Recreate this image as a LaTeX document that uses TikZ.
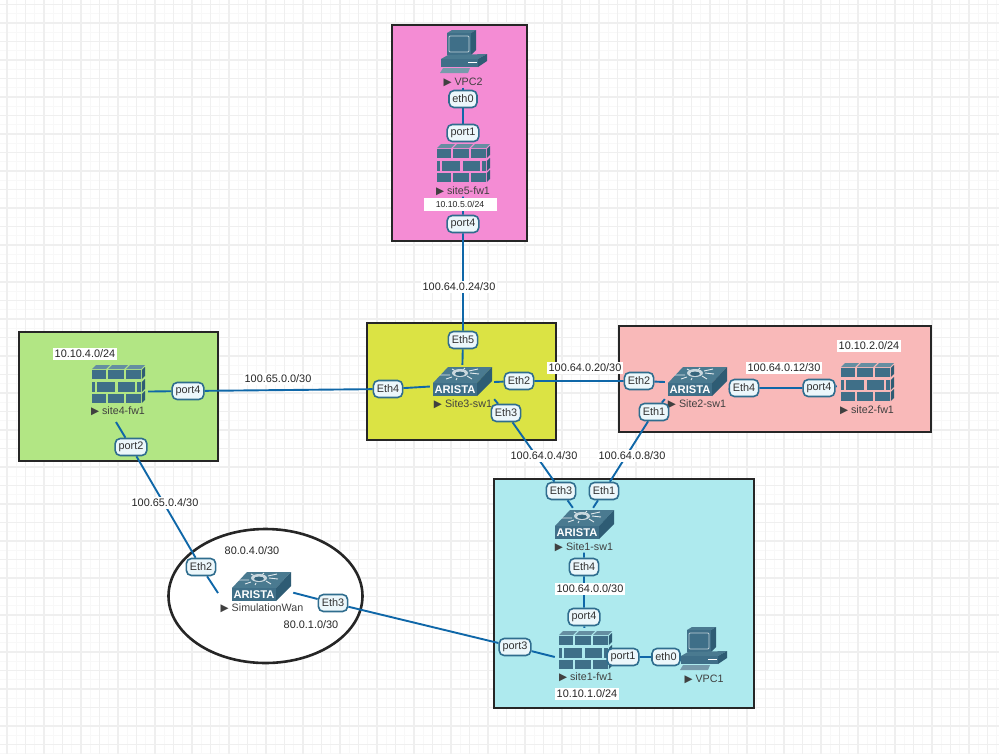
\documentclass[tikz,border=0pt]{standalone}
\usepackage{fontspec}
\setmainfont{Liberation Sans}
\newfontfamily\trifont{DejaVu Sans}
\usetikzlibrary{backgrounds}
\definecolor{icontop}{HTML}{4A7A90}
\definecolor{iconfront}{HTML}{3F6F88}
\definecolor{iconside}{HTML}{2E5C74}
\definecolor{linkblue}{HTML}{0F67A8}
\definecolor{portline}{HTML}{2F6D8E}
\definecolor{portfill}{HTML}{ECF7FB}
\definecolor{gridmajor}{HTML}{EFEFEF}
\definecolor{gridminor}{HTML}{F8F8F8}
\tikzset{
    swbox/.style={minimum width=64pt,minimum height=34pt,inner sep=0pt},
    fwbox/.style={minimum width=60pt,minimum height=44pt,inner sep=0pt},
    pcbox/.style={minimum width=48pt,minimum height=44pt,inner sep=0pt},
    area/.style={draw=black!85,line width=2.6pt},
    link/.style={draw=linkblue,line width=1.9pt},
    portlabel/.style={draw=portline,fill=portfill,line width=1.6pt,rounded corners=5pt,
        minimum height=17pt,inner xsep=3.4pt,inner ysep=1pt,font=\fontsize{10.9}{12}\selectfont,text=black!80},
    netlabel/.style={fill=white,inner sep=1.8pt,font=\fontsize{10.9}{12}\selectfont,text=black!85},
    devname/.style={inner sep=1pt,font=\fontsize{10.7}{12}\selectfont,text=black!75},
}
\def\play{{\trifont\fontsize{10.5}{10}\selectfont\char"25B6}~}
\def\brick#1#2#3#4{\fill[iconfront] (#1,#3) rectangle (#2,#4);}
\def\bricktop#1#2{\fill[icontop!85] (#1,-15) -- (#1+4,-19) -- (#2+4,-19) -- (#2,-15) -- cycle;}
\def\brickside#1#2{\fill[iconside] (23.8,#1) -- (27,#1-3) -- (27,#2-3) -- (23.8,#2) -- cycle;}
\newcommand\swicon[1]{
    \begin{scope}[shift={(#1.center)}]
        \fill[icontop] (-14,-15) -- (30,-15) -- (15,1) -- (-29,1) -- cycle;
        \fill[iconfront] (-29,1) -- (15,1) -- (15,14) -- (-29,14) -- cycle;
        \fill[iconside] (15,1) -- (30,-15) -- (30,-1) -- (15,14) -- cycle;
        \draw[white!85!icontop,line width=0.9pt] (-22,-7) -- (-12,-7) (8,-9) -- (17,-8) (-16,-3) -- (-10,-5)
            (5,-6) -- (10,-3) (-10,-13) -- (-6,-11) (3,-14) -- (0,-11) (16,-13) -- (7,-11) (-5,-4) -- (-6,-2);
        \fill[white!70!icontop] (-2,-9) ellipse (8pt and 4pt);
        \fill[iconside!70!icontop] (-2,-8.2) ellipse (5pt and 2.2pt);
        \node[inner sep=0pt,text=white,font=\bfseries\fontsize{11.2}{12}\selectfont] (#1logo) at (-7,8) {ARISTA};
    \end{scope}
}
\newcommand\fwicon[1]{
    \begin{scope}[shift={(#1.center)}]
        \bricktop{-26}{-12}
        \bricktop{-10}{6}
        \bricktop{8}{23}
        \brickside{-14}{-5}
        \brickside{-2}{8}
        \brickside{10}{19}
        \brick{-26}{-12}{-14}{-5}
        \brick{-10}{6}{-14}{-5}
        \brick{8}{23}{-14}{-5}
        \brick{-26}{-23}{-2}{8}
        \brick{-21}{-3}{-2}{8}
        \brick{0}{17}{-2}{8}
        \brick{19}{23}{-2}{8}
        \brick{-26}{-12}{10}{19}
        \brick{-10}{6}{10}{19}
        \brick{8}{23}{10}{19}
    \end{scope}
}
\newcommand\pcicon[1]{
    \begin{scope}[shift={(#1.center)}]
        \fill[icontop] (-16,-19) -- (-11,-22) -- (13,-22) -- (8,-19) -- cycle;
        \fill[iconside] (8,-19) -- (13,-22) -- (13,-2) -- (8,3) -- cycle;
        \fill[iconfront] (-16,-19) rectangle (8,3);
        \draw[white!65!icontop,fill=iconfront,line width=0.9pt,rounded corners=1pt] (-14,-16) rectangle (6,0);
        \fill[icontop] (-22,7) -- (-15,3) -- (24,2) -- (15,7) -- cycle;
        \fill[iconfront] (-22,7) rectangle (15,15);
        \fill[iconside] (15,7) -- (24,2) -- (24,9) -- (15,15) -- cycle;
        \draw[white,line width=1.2pt] (5,10.7) -- (14,10.7);
        \fill[icontop!75] (-20,16) -- (7,16) -- (5,21) -- (-23,21) -- cycle;
    \end{scope}
}

\begin{document}
\begin{tikzpicture}[x=1pt,y=-1pt]
    \useasboundingbox (0,0) rectangle (999,753);

    \node[pcbox] (vpc2) at (463,52) {};
    \node[fwbox] (site5fw) at (463,163) {};
    \node[swbox] (site3sw) at (462,382) {};
    \node[swbox] (site2sw) at (697,382) {};
    \node[fwbox] (site2fw) at (867,382) {};
    \node[fwbox] (site4fw) at (118,384) {};
    \node[swbox] (site1sw) at (584,525) {};
    \node[fwbox] (site1fw) at (585,650) {};
    \node[pcbox] (vpc1) at (703,649) {};
    \node[swbox] (simwan) at (261,587) {};
    \coordinate (simwest) at (218,593);
    \coordinate (site4south) at (116,422);

    \pcicon{vpc2}
    \fwicon{site5fw}
    \swicon{site3sw}
    \swicon{site2sw}
    \fwicon{site2fw}
    \fwicon{site4fw}
    \swicon{site1sw}
    \fwicon{site1fw}
    \pcicon{vpc1}
    \swicon{simwan}

    \node[devname] (vpc2name) at (463,82) {\play VPC2};
    \node[devname] (site5name) at (463,191) {\play site5-fw1};
    \node[devname] (site3name) at (463,404) {\play Site3-sw1};
    \node[devname] (site2name) at (697,404) {\play Site2-sw1};
    \node[devname] (site2fwname) at (867,410) {\play site2-fw1};
    \node[devname] (site4name) at (118,411) {\play site4-fw1};
    \node[devname] (site1name) at (584,547) {\play Site1-sw1};
    \node[devname] (site1fwname) at (586,677) {\play site1-fw1};
    \node[devname] (vpc1name) at (704,679) {\play VPC1};
    \node[devname] (simname) at (262,608) {\play SimulationWan};

    \node[portlabel] (s5eth0) at (463,99) {eth0};
    \node[portlabel] (s5port1) at (463,133) {port1};
    \node[portlabel] (s5port4) at (463,224) {port4};
    \node[portlabel] (s3eth5) at (463,340) {Eth5};
    \node[portlabel] (s3eth4) at (388,389) {Eth4};
    \node[portlabel] (s3eth2) at (519,381) {Eth2};
    \node[portlabel] (s3eth3) at (506,413) {Eth3};
    \node[portlabel] (s2eth2) at (639,381) {Eth2};
    \node[portlabel] (s2eth1) at (654,412) {Eth1};
    \node[portlabel] (s2eth4) at (744,388) {Eth4};
    \node[portlabel] (s2port4) at (819,388) {port4};
    \node[portlabel] (s4port4) at (188,391) {port4};
    \node[portlabel] (s4port2) at (131,447) {port2};
    \node[portlabel] (s1eth3) at (561,491) {Eth3};
    \node[portlabel] (s1eth1) at (604,491) {Eth1};
    \node[portlabel] (s1eth4) at (584,567) {Eth4};
    \node[portlabel] (s1port4) at (584,617) {port4};
    \node[portlabel] (s1port3) at (515,647) {port3};
    \node[portlabel] (s1port1) at (623,657) {port1};
    \node[portlabel] (s1eth0) at (666,657) {eth0};
    \node[portlabel] (wneth2) at (201,567) {Eth2};
    \node[portlabel] (wneth3) at (333,603) {Eth3};

    \node[netlabel,minimum width=73pt,minimum height=13pt,font=\fontsize{8.7}{10}\selectfont] (net5) at (460,204.5) {10.10.5.0/24};
    \node[netlabel] (net24) at (459,287) {100.64.0.24/30};
    \node[netlabel] (net650) at (278,379) {100.65.0.0/30};
    \node[netlabel] (net20) at (585,368) {100.64.0.20/30};
    \node[netlabel] (net12) at (784,368) {100.64.0.12/30};
    \node[netlabel] (net2) at (869,346) {10.10.2.0/24};
    \node[netlabel] (net4) at (85,354) {10.10.4.0/24};
    \node[netlabel] (net644) at (544,456) {100.64.0.4/30};
    \node[netlabel] (net648) at (632,456) {100.64.0.8/30};
    \node[netlabel] (net654) at (165,503) {100.65.0.4/30};
    \node[netlabel] (net804) at (252,551) {80.0.4.0/30};
    \node[netlabel] (net801) at (311,625) {80.0.1.0/30};
    \node[netlabel] (net640) at (590,589) {100.64.0.0/30};
    \node[netlabel] (net1) at (587,694) {10.10.1.0/24};

    \begin{scope}[on background layer]
        \begin{scope}
            \clip (0,0) rectangle (999,753);
            \begin{scope}[shift={(7,4.5)}]
                \draw[gridminor,line width=1pt,step=9.25pt] (-9.25,-9.25) grid (999,752);
                \draw[gridmajor,line width=1.2pt,step=18.5pt] (-9.25,-9.25) grid (999,752);
            \end{scope}
        \end{scope}
        \fill[area,fill=white!100] (265.5,596) ellipse (97pt and 67pt);
        \draw[area,fill={rgb,255:red,244;green,140;blue,212}] (392,25) rectangle (527,241);
        \draw[area,fill={rgb,255:red,219;green,227;blue,68}] (367,323) rectangle (556,440);
        \draw[area,fill={rgb,255:red,249;green,185;blue,185}] (619,326) rectangle (931,432);
        \draw[area,fill={rgb,255:red,178;green,230;blue,132}] (19,332) rectangle (218,461);
        \draw[area,fill={rgb,255:red,174;green,234;blue,238}] (494,479) rectangle (754,708);
        \draw[link] (vpc2name) -- (s5eth0) -- (s5port1) -- (site5fw);
        \draw[link] (site5name) -- (s5port4) -- (s3eth5) -- (site3sw);
        \draw[link] (site4fw.-14) -- (s4port4) -- (s3eth4) -- (site3sw.188);
        \draw[link] (site4south) -- (s4port2) -- (wneth2) -- (simwest);
        \draw[link] (site3sw.east) -- (s3eth2) -- (s2eth2) -- (site2sw.west);
        \draw[link] (site3sw.south east) -- (s3eth3) -- (s1eth3) -- (site1sw.123);
        \draw[link] (site2sw.208) -- (s2eth1) -- (s1eth1) -- (site1sw.62);
        \draw[link] (site2sw.-12) -- (s2eth4) -- (s2port4) -- (site2fw.188);
        \draw[link] (site1name) -- (s1eth4) -- (s1port4) -- (site1fw);
        \draw[link] (site1fw.-13) -- (s1port1) -- (s1eth0) -- (vpc1.198);
        \draw[link] (simwan.-10) -- (wneth3) -- (s1port3) -- (site1fw.193);
    \end{scope}
\end{tikzpicture}
\end{document}
